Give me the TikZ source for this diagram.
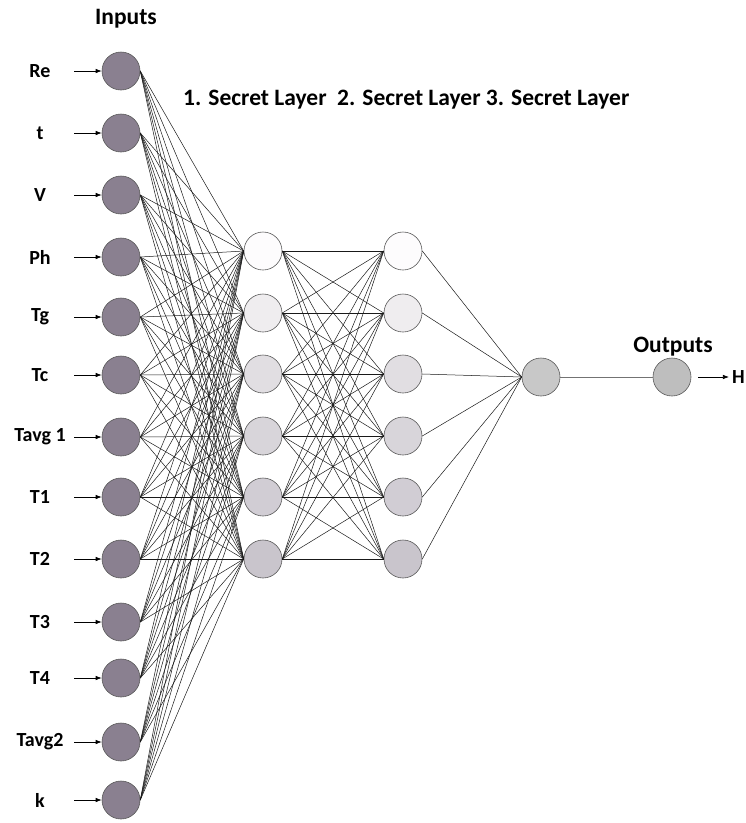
\documentclass[tikz,border=0pt]{standalone}
\usepackage{fontspec}
\setmainfont{Carlito}
\usetikzlibrary{arrows.meta}

\definecolor{inputfill}{RGB}{138,128,144}
\definecolor{outfill}{RGB}{200,200,200}

\tikzset{
  neuron/.style={circle,draw=black!65,line width=0.6pt,minimum size=38pt,inner sep=0pt},
  inneuron/.style={neuron,fill=inputfill},
  lbl/.style={font=\fontsize{20}{23}\selectfont\bfseries,inner sep=0pt},
  head/.style={font=\fontsize{23.5}{27}\selectfont\bfseries,inner sep=0pt},
  syn/.style={line width=0.5pt,black!90},
  feed/.style={-{Latex[length=6pt,width=4.5pt]},line width=0.7pt}
}

\begin{document}
\begin{tikzpicture}[x=1pt,y=-1pt]
              \useasboundingbox (0,0) rectangle (746,823);

              % input layer
              \foreach \name/\y [count=\i] in {Re/71,t/133,V/195,Ph/257,Tg/317,Tc/375,Tavg 1/437,T1/497,T2/559,T3/622,T4/678,Tavg2/742,k/800} {%
                \node[inneuron] (in-\i) at (121,\y) {};
                \node[lbl] (inlbl-\i) at (40,\y) {\name};
                \coordinate (infeed-\i) at (74,\y);
                \draw[feed] (infeed-\i) -- (in-\i.west);
              };

              % first and second secret layers
              \foreach \y/\shade [count=\j] in {251/2,313/14,374/26,436/33,497/39,559/46} {%
                \node[neuron,fill=inputfill!\shade!white] (h1-\j) at (263,\y) {};
                \node[neuron,fill=inputfill!\shade!white] (h2-\j) at (403,\y) {};
              };

              % third secret layer and output
              \node[neuron,fill=outfill] (h3) at (541,377) {};
              \node[neuron,fill=outfill!95!black] (out) at (672,377) {};

              % connections
              \foreach \i in {1,...,13} {%
                \foreach \j in {1,...,6} {\draw[syn] (in-\i.east) -- (h1-\j.west);};
              };
              \foreach \i in {1,...,6} {%
                \foreach \j in {1,...,6} {\draw[syn] (h1-\i.east) -- (h2-\j.west);};
                \draw[syn] (h2-\i.east) -- (h3.west);
              };
              \draw[syn,black!55,line width=0.9pt] (h3.east) -- (out.west);

              % result
              \node[lbl,anchor=east] (res) at (745,377) {H};
              \draw[feed] (out.east) ++(7,0) coordinate (outfeed) -- ([xshift=-3pt]res.west);

              % headings
              \node[head] (inputs) at (126,19) {Inputs};
              \node[head,anchor=west] (layers) at (183,100) {1. Secret Layer\ \ 2. Secret Layer 3. Secret Layer};
              \node[head] (outputs) at (673,347) {Outputs};
            \end{tikzpicture}
\end{document}
